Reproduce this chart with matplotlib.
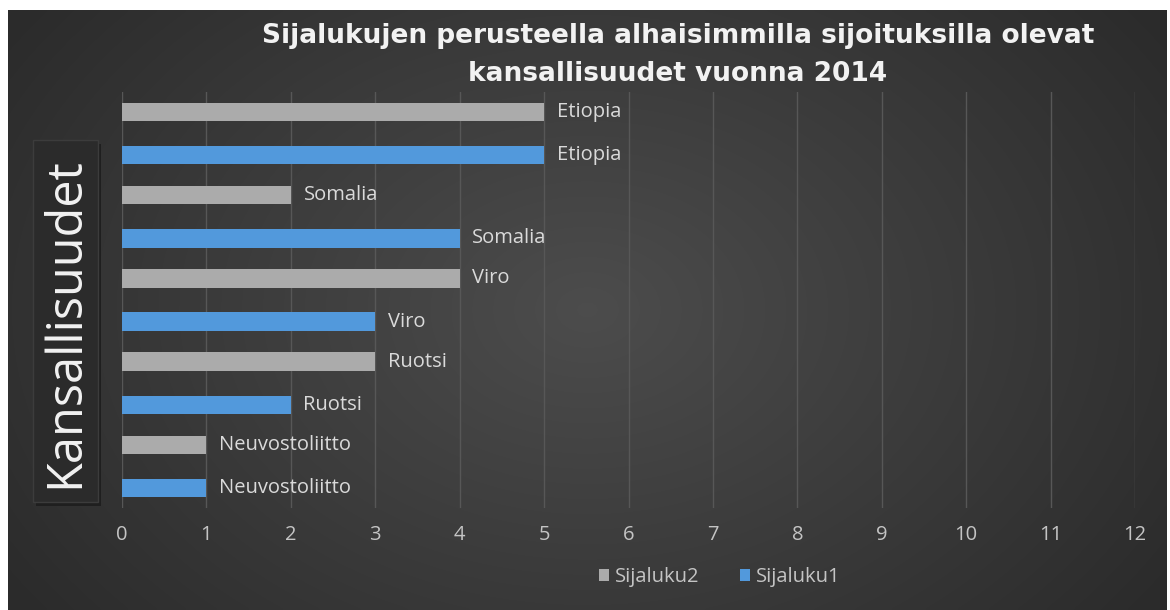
import numpy as np
import matplotlib
matplotlib.use("Agg")
import matplotlib.pyplot as plt
from matplotlib.patches import Patch, Rectangle

# --- data ---
kansallisuudet = ["Neuvostoliitto", "Ruotsi", "Viro", "Somalia", "Etiopia"]
sijaluku1 = [1, 2, 3, 4, 5]
sijaluku2 = [1, 3, 4, 2, 5]
x_ticks = list(range(0, 13))

title_text = ("Sijalukujen perusteella alhaisimmilla sijoituksilla olevat\n"
              "kansallisuudet vuonna 2014")

BLUE = "#5299dc"
GRAY = "#ababab"
LABEL_COL = "#dadada"
TICK_COL = "#c4c4c4"

fig = plt.figure(figsize=(11.7, 6.1), dpi=100)
fig.patch.set_facecolor("white")

# dark chart area with radial gradient
bg = fig.add_axes([8 / 1170, 0, 1159 / 1170, 600 / 610])
gx = np.linspace(-1, 1, 400)
gy = np.linspace(-1, 1, 200)
X, Y = np.meshgrid(gx, gy)
r = np.sqrt((X / 1.0) ** 2 + (Y / 1.4) ** 2)
shade = 0.30 - 0.13 * np.clip(r, 0, 1.2) / 1.2
bg.imshow(np.dstack([shade, shade, shade]), aspect="auto", extent=[0, 1, 0, 1],
          interpolation="bicubic")
bg.set_axis_off()

# plot area
ax = fig.add_axes([122 / 1170, 1 - 508 / 610, 1013 / 1170, 416 / 610])
ax.set_facecolor("none")

y = np.arange(len(kansallisuudet))
off = 0.26
h = 0.22
ax.barh(y + off, sijaluku2, height=h, color=GRAY, zorder=3, label="Sijaluku2")
ax.barh(y - off, sijaluku1, height=h, color=BLUE, zorder=3, label="Sijaluku1")

for yi, v, name in zip(y, sijaluku2, kansallisuudet):
    ax.text(v + 0.15, yi + off, name, color=LABEL_COL, fontsize=14.5,
            va="center", ha="left", family="Open Sans", zorder=4)
for yi, v, name in zip(y, sijaluku1, kansallisuudet):
    ax.text(v + 0.15, yi - off, name, color=LABEL_COL, fontsize=14.5,
            va="center", ha="left", family="Open Sans", zorder=4)

ax.set_xlim(0, 12)
ax.set_ylim(-0.5, len(kansallisuudet) - 0.5)
ax.set_xticks(x_ticks)
ax.set_xticklabels([str(t) for t in x_ticks], color=TICK_COL, fontsize=14.5,
                   family="Open Sans")
ax.set_yticks([])
ax.tick_params(axis="x", length=0, pad=12)
ax.grid(axis="x", color="#575757", linewidth=1, zorder=0)
for s in ax.spines.values():
    s.set_visible(False)

# y label in a box with a soft shadow
fig.patches.append(Rectangle((36 / 1170, 1 - 506 / 610), 65 / 1170, 362 / 610,
                             transform=fig.transFigure, facecolor="#1f1f1f",
                             edgecolor="none", zorder=1))
fig.patches.append(Rectangle((33 / 1170, 1 - 502 / 610), 65 / 1170, 362 / 610,
                             transform=fig.transFigure, facecolor="#2b2b2b",
                             edgecolor="#3c3c3c", linewidth=1, zorder=1))
fig.text(66 / 1170, 1 - 323 / 610, "Kansallisuudet", rotation=90, color="#f2f2f2",
         fontsize=35, family="Open Sans", ha="center", va="center", zorder=2)

# title
fig.text(678 / 1170, 1 - 55 / 610, title_text, color="#f2f2f2", fontsize=19,
         fontweight="bold", family="DejaVu Sans", ha="center", va="center",
         linespacing=1.6)

# legend
handles = [Patch(facecolor=GRAY, label="Sijaluku2"),
           Patch(facecolor=BLUE, label="Sijaluku1")]
leg = fig.legend(handles=handles, loc="center", bbox_to_anchor=(720 / 1170, 1 - 577 / 610),
                 ncol=2, frameon=False, handlelength=0.5, handleheight=0.6,
                 handletextpad=0.3, columnspacing=2.0,
                 prop={"family": "Open Sans", "size": 14.5})
for t in leg.get_texts():
    t.set_color(TICK_COL)

fig.savefig("out.png", dpi=100, facecolor=fig.get_facecolor())
